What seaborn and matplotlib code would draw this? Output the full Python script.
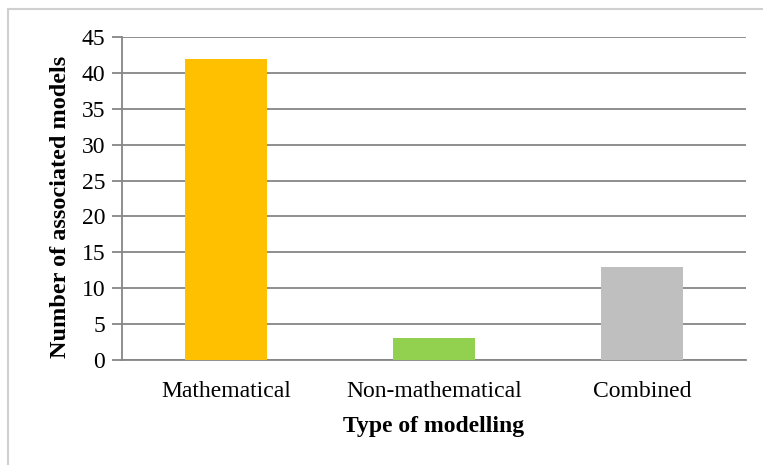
import matplotlib
matplotlib.use("Agg")
import matplotlib.pyplot as plt
import seaborn as sns
import pandas as pd
from matplotlib.patches import Rectangle

categories = ["Mathematical", "Non-mathematical", "Combined"]
counts = [42, 3, 13]
bar_colors = ["#FFC000", "#92D050", "#BFBFBF"]
y_ticks = [0, 5, 10, 15, 20, 25, 30, 35, 40, 45]

df = pd.DataFrame({"type": categories, "count": counts})

sns.set_theme(style="white")
plt.rcParams["font.family"] = ["Liberation Serif", "DejaVu Serif"]

W, H = 763, 465
fig = plt.figure(figsize=(W / 100, H / 100), dpi=100)
ax = fig.add_axes([122 / W, 1 - 360 / H, (746 - 122) / W, (360 - 37) / H])

sns.barplot(data=df, x="type", y="count", hue="type", palette=bar_colors,
            width=0.395, saturation=1, legend=False, ax=ax, zorder=3,
            edgecolor="none", linewidth=0)

ax.set_ylim(0, 45)
ax.set_yticks(y_ticks)
ax.set_xlim(-0.5, 2.5)
ax.yaxis.grid(True, color="#868686", linewidth=1.3, zorder=0)
ax.set_axisbelow(True)
for side in ["top", "right"]:
    ax.spines[side].set_visible(False)
for side in ["left", "bottom"]:
    ax.spines[side].set_color("#868686")
    ax.spines[side].set_linewidth(1.3)
ax.tick_params(axis="y", which="both", left=True, length=7, width=1.3,
               color="#868686", labelsize=17, pad=5, labelcolor="black")
ax.tick_params(axis="x", bottom=False, labelsize=17, pad=9, labelcolor="black")

ax.set_xlabel("Type of modelling", fontsize=17, fontweight="bold",
              labelpad=10, color="black")
ax.set_ylabel("Number of associated models", fontsize=17.5, fontweight="bold",
              labelpad=8, color="black", y=0.475)

# outer chart-area frame
fig.patches.append(Rectangle((8 / W, -0.05), 1.1, 1 - 9 / H + 0.05,
                             transform=fig.transFigure, fill=False,
                             edgecolor="#D0D0D0", linewidth=1.5))

fig.savefig("out.png", dpi=100, facecolor="white")
